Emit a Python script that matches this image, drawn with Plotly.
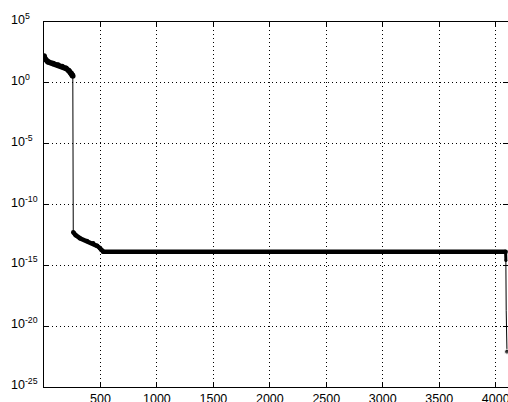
import math
import plotly.graph_objects as go

# Singular values (index, value)
head_idx = [1, 8, 35, 80, 124, 160, 194, 220, 240, 250, 255]
head_val = [160, 95, 54, 38, 29, 22, 15.5, 10, 6, 4.5, 3.6]

mid_idx = [259, 280, 318, 380, 435, 470, 495, 509, 525]
mid_val = [5.2e-13, 3.0e-13, 1.7e-13, 1.0e-13, 6.5e-14, 4.0e-14, 2.6e-14, 1.8e-14, 1.3e-14]

flat_idx = [525, 4088]
flat_val = [1.3e-14, 1.3e-14]

tail_idx = [4088, 4090, 4093, 4100]
tail_val = [1.3e-14, 2.5e-15, 2.0e-19, 8.0e-23]

x_ticks = [500, 1000, 1500, 2000, 2500, 3000, 3500, 4000]
x_labels = ["500", "1000", "1500", "2000", "2500", "3000", "3500", "4000"]
y_ticks = [1e5, 1e0, 1e-5, 1e-10, 1e-15, 1e-20, 1e-25]
y_labels = ["10<sup>5</sup>", "10<sup>0</sup>", "10<sup>-5</sup>", "10<sup>-10</sup>",
            "10<sup>-15</sup>", "10<sup>-20</sup>", "10<sup>-25</sup>"]

all_idx = head_idx + mid_idx + flat_idx[1:] + tail_idx[1:]
all_val = head_val + mid_val + flat_val[1:] + tail_val[1:]
# only the final sample shows as an isolated dot
dot_sizes = [0] * (len(all_idx) - 1) + [5]

FONT = dict(family="Liberation Sans, Arial, sans-serif", size=12.5, color="black")

fig = go.Figure()

# full connected path, thin line
fig.add_trace(go.Scatter(
    x=all_idx, y=all_val, mode="lines+markers",
    line=dict(color="black", width=1),
    marker=dict(color="black", size=dot_sizes),
    showlegend=False, hoverinfo="skip"))

# densely packed dot regions render as a heavy band
for xs, ys, w in [(head_idx, head_val, 5.5), (mid_idx, mid_val, 4.5), (flat_idx, flat_val, 4.5),
                  (tail_idx[:2], tail_val[:2], 3)]:
    fig.add_trace(go.Scatter(
        x=xs, y=ys, mode="lines+markers",
        line=dict(color="black", width=w),
        marker=dict(color="black", size=w),
        showlegend=False, hoverinfo="skip"))

axis_common = dict(
    showline=True, linecolor="black", linewidth=1, mirror="ticks",
    ticks="inside", ticklen=5, tickcolor="black",
    showgrid=True, gridcolor="black", gridwidth=1, griddash="1px,3px",
    zeroline=False, ticklabeloverflow="allow", automargin=False,
    tickfont=FONT,
)

fig.update_xaxes(range=[0, 4109], tickvals=x_ticks, ticktext=x_labels,
                 ticklabelstandoff=0, **axis_common)
fig.update_yaxes(type="log", range=[-25, 5], tickvals=y_ticks, showticklabels=False,
                 **axis_common)

# left-aligned power-of-ten labels
for v, lab in zip(y_ticks, y_labels):
    fig.add_annotation(
        x=0, xref="paper", xanchor="left", xshift=-35,
        y=math.log10(v), yref="y", yanchor="middle", yshift=3,
        text=lab, showarrow=False, font=FONT)

fig.update_layout(
    width=508, height=402,
    margin=dict(l=44, r=0, t=22, b=15),
    paper_bgcolor="white", plot_bgcolor="white",
)

fig.write_html("out.html")
